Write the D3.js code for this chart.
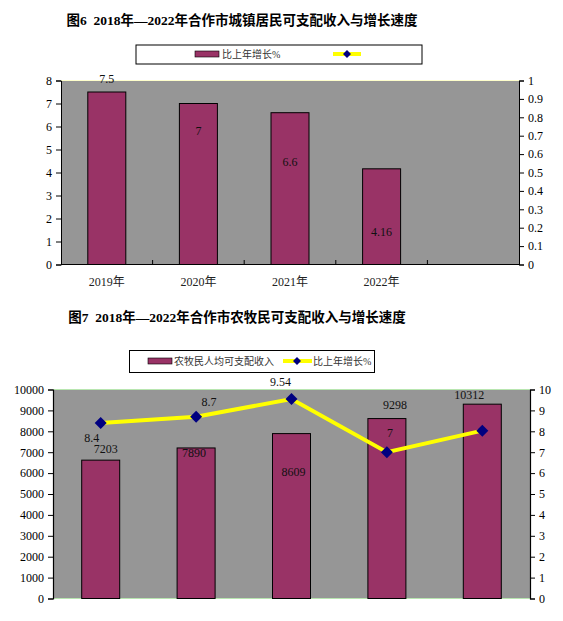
<!DOCTYPE html>
<html>
<head>
<meta charset="utf-8">
<script src="https://cdn.jsdelivr.net/npm/d3@7"></script>
<style>
  body { margin: 0; background: #fff; }
  svg { display: block; }
  text { font-family: "Liberation Serif", "Noto Sans CJK SC", serif; }
  .cjk { font-family: "Liberation Serif", "Noto Sans CJK SC", sans-serif; white-space: pre; }
</style>
</head>
<body>
<svg id="chart" width="563" height="621"></svg>
<script>
// 图6 城镇居民
const urbanYears = ["2019年", "2020年", "2021年", "2022年", ""];
const urbanGrowth = [7.5, 7, 6.6, 4.16];
const urbanLeftTicks = [0, 1, 2, 3, 4, 5, 6, 7, 8];
const urbanRightTicks = [0, 0.1, 0.2, 0.3, 0.4, 0.5, 0.6, 0.7, 0.8, 0.9, 1];

// 图7 农牧民
const ruralSlots = ["a", "b", "c", "d", "e"];
const ruralBars = [6620, 7203, 7890, 8609, 9298];
const ruralBarLabels = ["7203", "7890", "8609", "9298", "10312"];
const ruralGrowth = [8.4, 8.7, 9.54, 7, 8.03];
const ruralGrowthLabels = ["8.4", "8.7", "9.54", "7", ""];
const ruralLeftTicks = [0, 1000, 2000, 3000, 4000, 5000, 6000, 7000, 8000, 9000, 10000];
const ruralRightTicks = [0, 1, 2, 3, 4, 5, 6, 7, 8, 9, 10];

const BAR = "#993366", PLOT = "#969696", LINE = "#ffff00", MARK = "#000080";

const svg = d3.select("#chart");

function diamond(g, x, y, r) {
  g.append("path")
    .attr("d", `M${x},${y - r}L${x + r},${y}L${x},${y + r}L${x - r},${y}Z`)
    .attr("fill", MARK);
}

// ---------- 图6 ----------
svg.append("text").attr("class", "cjk")
  .attr("x", 242).attr("y", 25).attr("text-anchor", "middle")
  .attr("font-size", 13.5).attr("font-weight", "bold")
  .text("图6  2018年—2022年合作市城镇居民可支配收入与增长速度");

const lg1 = svg.append("g");
lg1.append("rect").attr("x", 136).attr("y", 45).attr("width", 286).attr("height", 19)
  .attr("fill", "#fff").attr("stroke", "#000");
lg1.append("rect").attr("x", 195).attr("y", 51).attr("width", 24).attr("height", 6)
  .attr("fill", BAR).attr("stroke", "#000").attr("stroke-width", 0.6);
lg1.append("text").attr("class", "cjk").attr("x", 222).attr("y", 58)
  .attr("font-size", 10).attr("fill", "#333").text("比上年增长%");
lg1.append("line").attr("x1", 333).attr("x2", 361).attr("y1", 54).attr("y2", 54)
  .attr("stroke", LINE).attr("stroke-width", 4);
diamond(lg1, 347, 54, 4);

const x1 = d3.scaleBand().domain(urbanYears.map((d, i) => i)).range([61, 519]);
const y1 = d3.scaleLinear().domain([0, 8]).range([264.5, 80.5]);
const y1r = d3.scaleLinear().domain([0, 1]).range([264.5, 80.5]);

svg.append("rect").attr("x", 61).attr("y", 80.5).attr("width", 458).attr("height", 184)
  .attr("fill", PLOT);
svg.append("line").attr("x1", 61).attr("x2", 519).attr("y1", 80.5).attr("y2", 80.5)
  .attr("stroke", "#ffffcc").attr("stroke-width", 1);

const bw1 = 38;
svg.append("g").selectAll("rect").data(urbanGrowth).join("rect")
  .attr("x", (d, i) => x1(i) + x1.bandwidth() / 2 - bw1 / 2)
  .attr("y", d => y1(d))
  .attr("width", bw1)
  .attr("height", d => y1(0) - y1(d))
  .attr("fill", BAR).attr("stroke", "#000").attr("stroke-width", 1);

// labels sit at odd heights in the original
const urbanLabelAt = [8.05, 5.8, 4.45, 1.4];
svg.append("g").selectAll("text").data(urbanGrowth).join("text")
  .attr("x", (d, i) => x1(i) + x1.bandwidth() / 2)
  .attr("y", (d, i) => y1(urbanLabelAt[i]) + 4)
  .attr("text-anchor", "middle").attr("font-size", 12).attr("fill", "#111")
  .text(d => d);

svg.append("g").attr("transform", "translate(61,0)")
  .call(d3.axisLeft(y1).tickValues(urbanLeftTicks).tickSize(5).tickPadding(4))
  .call(g => g.select(".domain").attr("stroke", "#000"))
  .selectAll("text").attr("font-size", 12).attr("font-family", "Liberation Serif");

svg.append("g").attr("transform", "translate(519,0)")
  .call(d3.axisRight(y1r).tickValues(urbanRightTicks).tickSize(5).tickPadding(4)
    .tickFormat(d => d === 0 || d === 1 ? d : d3.format(".1f")(d)))
  .call(g => g.select(".domain").attr("stroke", "#000"))
  .selectAll("text").attr("font-size", 12).attr("font-family", "Liberation Serif");

// bottom axis with ticks between categories
const xa1 = svg.append("g");
xa1.append("line").attr("x1", 61).attr("x2", 519).attr("y1", 264.5).attr("y2", 264.5)
  .attr("stroke", "#000").attr("stroke-width", 1.2);
xa1.selectAll("line.tk").data(urbanYears.slice(1)).join("line").attr("class", "tk")
  .attr("x1", (d, i) => x1(i + 1)).attr("x2", (d, i) => x1(i + 1))
  .attr("y1", 264.5).attr("y2", 260).attr("stroke", "#000");
xa1.selectAll("text").data(urbanYears).join("text").attr("class", "cjk")
  .attr("x", (d, i) => x1(i) + x1.bandwidth() / 2).attr("y", 286)
  .attr("text-anchor", "middle").attr("font-size", 12).attr("fill", "#222")
  .text(d => d);

// ---------- 图7 ----------
svg.append("text").attr("class", "cjk")
  .attr("x", 237).attr("y", 322).attr("text-anchor", "middle")
  .attr("font-size", 13.5).attr("font-weight", "bold")
  .text("图7  2018年—2022年合作市农牧民可支配收入与增长速度");

const lg2 = svg.append("g");
lg2.append("rect").attr("x", 129.5).attr("y", 350.5).attr("width", 245).attr("height", 22)
  .attr("fill", "#fff").attr("stroke", "#000");
lg2.append("rect").attr("x", 148).attr("y", 358).attr("width", 24).attr("height", 6)
  .attr("fill", BAR).attr("stroke", "#000").attr("stroke-width", 0.6);
lg2.append("text").attr("class", "cjk").attr("x", 174).attr("y", 365)
  .attr("font-size", 10).attr("fill", "#333").text("农牧民人均可支配收入");
lg2.append("line").attr("x1", 283).attr("x2", 312).attr("y1", 361).attr("y2", 361)
  .attr("stroke", LINE).attr("stroke-width", 4);
diamond(lg2, 297, 361, 4);
lg2.append("text").attr("class", "cjk").attr("x", 313).attr("y", 365)
  .attr("font-size", 10).attr("fill", "#333").text("比上年增长%");

const x2 = d3.scaleBand().domain(ruralSlots).range([53, 530]);
const y2 = d3.scaleLinear().domain([0, 10000]).range([598.5, 389.5]);
const y2r = d3.scaleLinear().domain([0, 10]).range([598.5, 389.5]);
const cx2 = i => x2(ruralSlots[i]) + x2.bandwidth() / 2;

svg.append("rect").attr("x", 53).attr("y", 389.5).attr("width", 477).attr("height", 209)
  .attr("fill", PLOT);
[389.5, 598.5].forEach(yy => svg.append("line")
  .attr("x1", 53).attr("x2", 530).attr("y1", yy).attr("y2", yy)
  .attr("stroke", "#b8e6b0").attr("stroke-width", 1));

const bw2 = 38;
svg.append("g").selectAll("rect").data(ruralBars).join("rect")
  .attr("x", (d, i) => cx2(i) - bw2 / 2)
  .attr("y", d => y2(d))
  .attr("width", bw2)
  .attr("height", d => y2(0) - y2(d))
  .attr("fill", BAR).attr("stroke", "#000").attr("stroke-width", 1);

svg.append("path")
  .datum(ruralGrowth)
  .attr("d", d3.line().x((d, i) => cx2(i)).y(d => y2r(d)))
  .attr("fill", "none").attr("stroke", LINE).attr("stroke-width", 4);
const mk = svg.append("g");
ruralGrowth.forEach((d, i) => diamond(mk, cx2(i), y2r(d), 6));

// label anchors in data units
const barLabelAt = [7150, 6940, 6070, 9250, 9720];
const barLabelDx = [5, -2, 2, 8, -13];
svg.append("g").selectAll("text").data(ruralBarLabels).join("text")
  .attr("x", (d, i) => cx2(i) + barLabelDx[i])
  .attr("y", (d, i) => y2(barLabelAt[i]) + 4)
  .attr("text-anchor", "middle").attr("font-size", 12).attr("fill", "#111")
  .text(d => d);

const growthLabelAt = [7.7, 9.4, 10.35, 7.9, 0];
const growthLabelDx = [-9, 13, -11, 3, 0];
svg.append("g").selectAll("text").data(ruralGrowthLabels).join("text")
  .attr("x", (d, i) => cx2(i) + growthLabelDx[i])
  .attr("y", (d, i) => y2r(growthLabelAt[i]) + 4)
  .attr("text-anchor", "middle").attr("font-size", 12).attr("fill", "#111")
  .text(d => d);

svg.append("g").attr("transform", "translate(53,0)")
  .call(d3.axisLeft(y2).tickValues(ruralLeftTicks).tickSize(5).tickPadding(4)
    .tickFormat(d3.format("d")))
  .call(g => g.select(".domain").attr("stroke", "#000").attr("stroke-width", 1.2))
  .selectAll("text").attr("font-size", 12).attr("font-family", "Liberation Serif");

svg.append("g").attr("transform", "translate(530,0)")
  .call(d3.axisRight(y2r).tickValues(ruralRightTicks).tickSize(5).tickPadding(4))
  .call(g => g.select(".domain").attr("stroke", "#000").attr("stroke-width", 1.2))
  .selectAll("text").attr("font-size", 12).attr("font-family", "Liberation Serif");
</script>
</body>
</html>
